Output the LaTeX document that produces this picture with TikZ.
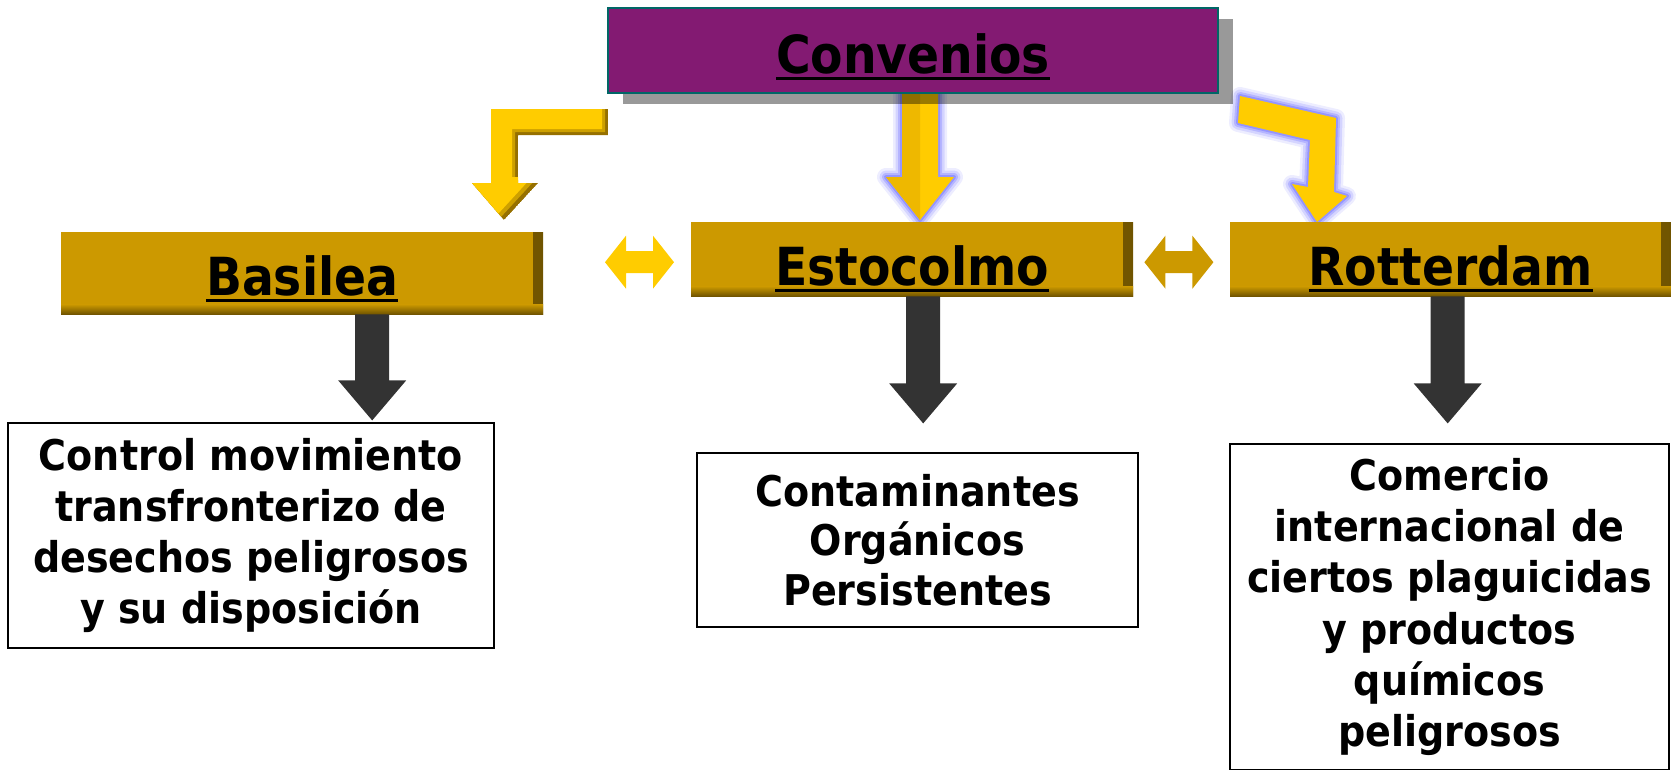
\documentclass[tikz,border=0pt]{standalone}
\usepackage{fontspec}
\setmainfont{DejaVu Sans Condensed}
\usetikzlibrary{positioning,calc,shadows}
\pgfdeclarelayer{background}
\pgfsetlayers{background,main}

\definecolor{convpurple}{RGB}{131,26,114}
\definecolor{convedge}{RGB}{0,102,102}
\definecolor{boxgold}{RGB}{204,153,0}
\definecolor{boxdark}{RGB}{112,84,0}
\definecolor{arrowyellow}{RGB}{255,204,0}
\definecolor{arrowdeep}{RGB}{238,184,0}
\definecolor{arrowshade}{RGB}{150,112,0}
\definecolor{arrowmid}{RGB}{205,160,0}
\definecolor{glowblue}{RGB}{110,110,255}
\definecolor{darkarrow}{RGB}{51,51,51}

\newcommand{\headfont}{\fontsize{52.5}{60}\selectfont\bfseries}
\newcommand{\bodyfont}{\fontsize{42.3}{51.2}\selectfont\bfseries}
\newcommand{\ulword}[1]{\setbox0=\hbox{#1}\rlap{\copy0}\rule[-7pt]{\wd0}{3.5pt}}

\tikzset{
  headbox/.style={fill=boxgold, inner sep=0pt, anchor=north west, text depth=0pt, font=\headfont,
    path picture={
      \shade[left color=boxgold, right color=boxdark]
        ($(path picture bounding box.north east)+(-10,0)$) rectangle (path picture bounding box.south east);
      \shade[top color=boxgold, bottom color=boxdark]
        ($(path picture bounding box.south west)+(0,-10)$) rectangle (path picture bounding box.south east);
    }},
  textbox/.style={draw=black, line width=2pt, fill=white, align=center, anchor=north west,
    inner sep=0pt, font=\bodyfont},
  pics/dblarrow/.style={code={
    \fill[pic actions] (0,0) -- ++(21,-26.5) -- ++(0,15.5) -- ++(27,0) -- ++(0,-15.5) -- ++(21,26.5)
      -- ++(-21,26.5) -- ++(0,-15.5) -- ++(-27,0) -- ++(0,15.5) -- cycle;
  }}
}

\begin{document}
\begin{tikzpicture}[x=1pt, y=-1pt,
  convbox/.style={fill=convpurple, draw=convedge, line width=2pt, inner sep=0pt, outer sep=0pt,
    anchor=north west, text depth=0pt, font=\headfont,
    drop shadow={shadow xshift=15pt, shadow yshift=-11pt, fill=black, opacity=.4}}
]
\useasboundingbox (0,0) rectangle (1671,769);

% Top box
\node[convbox, minimum width=610pt, minimum height=85pt, text height=45pt] (conv) at (608,8) {\ulword{Convenios}};

% Conventions
\node[headbox, minimum width=482pt, minimum height=82pt, text height=44pt] (bas) at (61,232) {\ulword{Basilea}};
\node[headbox, minimum width=442pt, minimum height=74pt, text height=52pt] (est) at (691,222) {\ulword{Estocolmo}};
\node[headbox, minimum width=441pt, minimum height=74pt, text height=52pt] (rot) at (1230,222) {\ulword{Rotterdam}};

% Descriptions
\node[textbox, minimum width=486pt, minimum height=225pt] (bastxt) at (7,422)
  {Control movimiento\\transfronterizo de\\desechos peligrosos\\y su disposición};
\node[textbox, minimum width=441pt, minimum height=174pt, font=\fontsize{42.3}{49.6}\selectfont\bfseries] (esttxt) at (696,452)
  {Contaminantes\\Orgánicos\\Persistentes};
\node[textbox, minimum width=439pt, minimum height=326pt] (rottxt) at (1229,443)
  {Comercio\\internacional de\\ciertos plaguicidas\\y productos\\químicos\\peligrosos};

% Dark arrows down to the descriptions
\foreach \src/\dx/\len in {bas/53/66, est/-6/87, rot/-20/87}
  \fill[darkarrow] ($(\src.south)+(\dx,0)$) -- ++(34,0) -- ++(0,\len) -- ++(17,0)
    -- ++(-34,40) -- ++(-34,-40) -- ++(17,0) -- cycle;

% Double arrows between the conventions
\pic[fill=arrowyellow] (dbl1) at ($(est.west)+(-86,3)$) {dblarrow};
\pic[fill=boxgold] (dbl2) at ($(est.east)+(11,3)$) {dblarrow};

% Yellow arrows from the top box
\def\basarrow{($(conv.south west)+(0,16)$) -- ++(0,26) -- ++(-90,0) -- ++(0,48) -- ++(20,0)
  -- ++(-34,37) -- ++(-32,-37) -- ++(19,0) -- ++(0,-74) -- cycle}
\def\midarrow{($(conv.south)+(-11,0)$) -- ++(36,0) -- ++(0,84) -- ++(16,0)
  -- ++(-34,43) -- ++(-34,-43) -- ++(16,0) -- cycle}
\def\rotarrow{($(conv.south east)+(22,3)$) -- ++(96,22) -- ++(-2,74) -- ++(13,4)
  -- ++(-30,26) -- ++(-25,-38) -- ++(16,3) -- ++(2,-47) -- ++(-72,-17) -- cycle}

\begin{pgfonlayer}{background}
  \foreach \w/\o in {18/.12, 13/.2, 8/.3, 4/.45}{
    \draw[glowblue, line width=\w pt, opacity=\o, line join=round] \midarrow;
    \draw[glowblue, line width=\w pt, opacity=\o, line join=round] \rotarrow;
  }
  \fill[arrowyellow] \midarrow;
  \fill[arrowdeep] ($(conv.south)+(-11,0)$) -- ++(18,0) -- ++(0,127) -- ++(-34,-43) -- ++(16,0) -- cycle;
  \fill[arrowyellow] \rotarrow;
  \begin{scope}
    \clip \basarrow;
    \fill[arrowshade] \basarrow;
    \fill[arrowmid, transform canvas={xshift=-3pt, yshift=3pt}] \basarrow;
    \fill[arrowyellow, transform canvas={xshift=-6pt, yshift=6pt}] \basarrow;
  \end{scope}
\end{pgfonlayer}

\end{tikzpicture}
\end{document}
